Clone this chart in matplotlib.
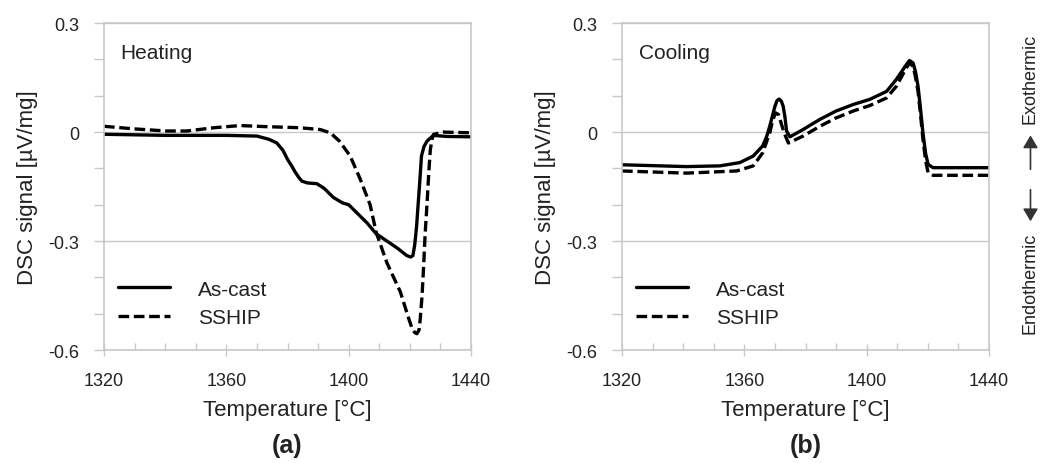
import matplotlib
matplotlib.use("Agg")
import matplotlib.pyplot as plt
from matplotlib.patches import FancyArrowPatch
from matplotlib.ticker import MultipleLocator

plt.rcParams["font.family"] = ["Liberation Sans", "DejaVu Sans"]

# heating, as-cast (solid)
heat_cast_t = [1320, 1340, 1360, 1370, 1374, 1376.5, 1378.5, 1380, 1381.5, 1382.5, 1383.7, 1384.7,
               1386.5, 1389.6, 1392, 1395, 1398, 1400, 1403, 1406, 1409, 1412.5, 1416, 1419,
               1420.3, 1421, 1421.6, 1422.2, 1422.7, 1423.3, 1423.8, 1424.6, 1425.6, 1427.7,
               1432, 1440]
heat_cast_v = [-0.006, -0.009, -0.009, -0.011, -0.02, -0.03, -0.05, -0.075, -0.095, -0.11, -0.125,
               -0.135, -0.14, -0.142, -0.155, -0.18, -0.195, -0.2, -0.225, -0.25, -0.28, -0.3,
               -0.32, -0.34, -0.344, -0.34, -0.31, -0.26, -0.2, -0.13, -0.066, -0.04, -0.025,
               -0.009, -0.012, -0.013]

# heating, SSHIP (dashed)
heat_ship_t = [1320, 1329.6, 1340.5, 1347, 1356, 1364.5, 1373, 1384, 1390.7, 1394, 1397, 1400.5,
               1403.8, 1407, 1409, 1412.5, 1416.9, 1419.5, 1420.7, 1421.6, 1422.3, 1423, 1423.4,
               1424, 1424.5, 1425, 1425.6, 1426.2, 1426.7, 1427.3, 1427.8, 1431, 1440]
heat_ship_v = [0.016, 0.009, 0.003, 0.003, 0.012, 0.018, 0.015, 0.012, 0.007, -0.002, -0.025,
               -0.066, -0.13, -0.2, -0.276, -0.36, -0.44, -0.51, -0.54, -0.552, -0.555, -0.545,
               -0.514, -0.45, -0.37, -0.28, -0.2, -0.11, -0.048, -0.018, -0.006, 0.0, -0.002]

# cooling, as-cast (solid)
cool_cast_t = [1320, 1341, 1352, 1358.5, 1362.9, 1366, 1367.3, 1368.3, 1369.2, 1370, 1370.7, 1371.4,
               1372.1, 1372.7, 1373.3, 1373.8, 1374.9, 1379.2, 1384.7, 1390, 1395.6, 1401, 1406.5,
               1409.7, 1413, 1414, 1415.2, 1416, 1416.8, 1417.6, 1418.4, 1419.3, 1420.1, 1421.7,
               1440]
cool_cast_v = [-0.09, -0.095, -0.093, -0.084, -0.066, -0.038, -0.012, 0.016, 0.045, 0.071, 0.087,
               0.091, 0.085, 0.071, 0.04, 0.003, -0.013, 0.007, 0.035, 0.058, 0.076, 0.09, 0.112,
               0.145, 0.186, 0.197, 0.19, 0.165, 0.126, 0.065, -0.002, -0.06, -0.089, -0.098,
               -0.098]

# cooling, SSHIP (dashed)
cool_ship_t = [1320, 1341, 1357.5, 1362.9, 1366, 1368.3, 1369.2, 1370.2, 1371.2, 1372.2, 1373,
               1374.4, 1379.2, 1384.7, 1390, 1395.6, 1401, 1406.5, 1409.7, 1413, 1414, 1415.2,
               1416, 1416.8, 1417.6, 1418.4, 1419.3, 1420.1, 1421.7, 1440]
cool_ship_v = [-0.107, -0.113, -0.107, -0.093, -0.057, -0.002, 0.03, 0.053, 0.048, 0.02, -0.002,
               -0.03, -0.011, 0.016, 0.039, 0.058, 0.073, 0.094, 0.126, 0.177, 0.19, 0.181, 0.15,
               0.112, 0.05, -0.02, -0.08, -0.112, -0.119, -0.119]

x_ticks = [1320, 1360, 1400, 1440]
y_ticks = [0.3, 0, -0.3, -0.6]
y_labels = ["0.3", "0", "-0.3", "-0.6"]

GRAY = "#c8c8c8"
TXT = "#222222"

fig = plt.figure(figsize=(10.43, 4.64), dpi=100)
ax_a = fig.add_axes([0.0997, 0.2435, 0.3519, 0.7045])
ax_b = fig.add_axes([0.5964, 0.2435, 0.3518, 0.7045])

panels = [
    (ax_a, heat_cast_t, heat_cast_v, heat_ship_t, heat_ship_v, "Heating", "(a)"),
    (ax_b, cool_cast_t, cool_cast_v, cool_ship_t, cool_ship_v, "Cooling", "(b)"),
]

for ax, ct, cv, st, sv, title, tag in panels:
    ax.plot(ct, cv, color="black", lw=2.4, label="As-cast", solid_capstyle="round")
    ax.plot(st, sv, color="black", lw=2.4, ls=(0, (3.2, 1.4)), label="SSHIP")
    ax.set_xlim(1320, 1440)
    ax.set_ylim(-0.6, 0.3)
    ax.set_xticks(x_ticks)
    ax.set_yticks(y_ticks)
    ax.set_yticklabels(y_labels)
    ax.xaxis.set_minor_locator(MultipleLocator(10))
    ax.yaxis.set_minor_locator(MultipleLocator(0.1))
    for s in ax.spines.values():
        s.set_color(GRAY)
        s.set_linewidth(1.2)
    ax.grid(axis="y", which="major", color=GRAY, lw=1.0)
    ax.set_axisbelow(True)
    ax.tick_params(axis="y", which="both", direction="out", length=7, color=GRAY,
                   width=1.0, labelsize=13, pad=11, labelcolor=TXT)
    ax.tick_params(axis="x", which="both", direction="inout", length=8, color=GRAY,
                   width=1.0, labelsize=13, pad=12, labelcolor=TXT)
    ax.tick_params(axis="x", which="minor", direction="in", length=5)
    ax.set_xlabel("Temperature [°C]", fontsize=16, color=TXT, labelpad=7)
    ax.set_ylabel("DSC signal [µV/mg]", fontsize=16, color=TXT, labelpad=7)
    ax.text(0.045, 0.91, title, transform=ax.transAxes, fontsize=15, color=TXT, va="center")
    leg = ax.legend(loc="lower left", bbox_to_anchor=(0.038, 0.07), frameon=False, fontsize=15,
                    handlelength=2.5, handletextpad=1.35, labelspacing=0.45,
                    borderpad=0, borderaxespad=0)
    for t in leg.get_texts():
        t.set_color(TXT)
    pos = ax.get_position()
    fig.text((pos.x0 + pos.x1) / 2, 0.012, tag, fontsize=18, fontweight="bold", ha="center",
             va="bottom", color=TXT)

# exo/endo indicator at the right
fig.text(0.988, 0.83, "Exothermic", rotation=90, fontsize=13, ha="center", va="center", color=TXT)
fig.text(0.988, 0.39, "Endothermic", rotation=90, fontsize=13, ha="center", va="center", color=TXT)
fig.add_artist(FancyArrowPatch((0.988, 0.627), (0.988, 0.712), transform=fig.transFigure,
                               arrowstyle="-|>,head_length=5,head_width=3", color="#333333",
                               lw=1.2, mutation_scale=1.5))
fig.add_artist(FancyArrowPatch((0.988, 0.595), (0.988, 0.515), transform=fig.transFigure,
                               arrowstyle="-|>,head_length=5,head_width=3", color="#333333",
                               lw=1.2, mutation_scale=1.5))

fig.savefig("out.png", dpi=100)
